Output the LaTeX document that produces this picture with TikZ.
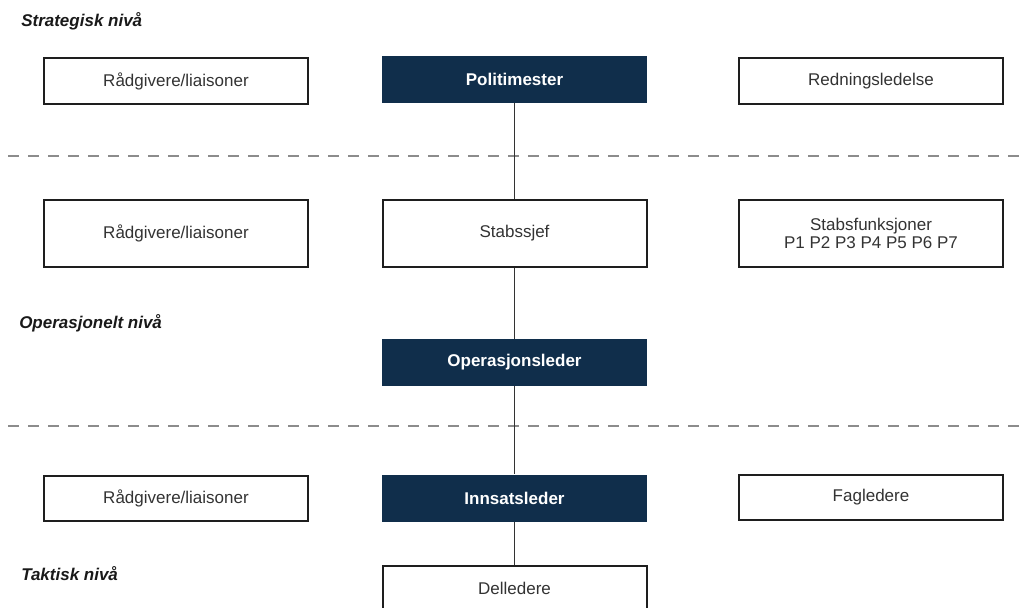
\documentclass[tikz,border=0pt]{standalone}
\usepackage{fontspec}
\setmainfont{Liberation Sans}
\usetikzlibrary{positioning}
\definecolor{navy}{HTML}{102E4B}
\definecolor{boxline}{HTML}{1E1E1E}
\definecolor{boxtext}{HTML}{333333}
\definecolor{dashline}{HTML}{8C8C8C}

\begin{document}
\begin{tikzpicture}[x=0.75pt,y=-0.75pt,
  font=\fontsize{12.75pt}{13pt}\selectfont,
  whitebox/.style={draw=boxline,line width=1.5pt,fill=white,text=boxtext,
    minimum width=198pt,align=center,inner sep=0pt},
  navybox/.style={fill=navy,text=white,font=\fontsize{12.75pt}{13pt}\selectfont\bfseries,
    minimum width=199pt,minimum height=35.25pt,inner sep=0pt},
  levellabel/.style={anchor=west,inner sep=0pt,text=black!90,
    font=\fontsize{12.75pt}{13pt}\selectfont\bfseries\itshape},
  levelline/.style={draw=dashline,line width=1.1pt,dash pattern=on 8.25pt off 6.75pt},
  link/.style={draw=boxtext,line width=0.8pt}]

  \useasboundingbox (0,0) rectangle (1019,607);

  % levels
  \node[levellabel] (strat) at (21,21) {Strategisk nivå};
  \node[levellabel] (oper) at (19,323) {Operasjonelt nivå};
  \node[levellabel] (takt) at (21,574) {Taktisk nivå};

  \coordinate (d1a) at (8,156);
  \coordinate (d1b) at (1019,156);
  \coordinate (d2a) at (8,426);
  \coordinate (d2b) at (1019,426);
  \draw[levelline] (d1a) -- (d1b);
  \draw[levelline] (d2a) -- (d2b);

  % strategisk
  \node[whitebox,minimum height=34.5pt] (rad1) at (176,81) {Rådgivere/liaisoner};
  \node[navybox] (poli) at (514.5,79) {Politimester};
  \node[whitebox,minimum height=34.5pt] (redn) at (871,81) {Redningsledelse};

  \node[whitebox,minimum height=50.25pt] (rad2) at (176,233.5) {Rådgivere/liaisoner};
  \node[whitebox,minimum height=50.25pt] (stab) at (514.5,233.5) {Stabssjef};
  \node[whitebox,minimum height=50.25pt] (funk) at (871,233.5)
    {Stabsfunksjoner\\P1 P2 P3 P4 P5 P6 P7};

  % operasjonelt
  \node[navybox] (opl) at (514.5,362.5) {Operasjonsleder};

  % taktisk
  \node[whitebox,minimum height=33.75pt] (rad3) at (176,498) {Rådgivere/liaisoner};
  \node[navybox] (inns) at (514.5,498) {Innsatsleder};
  \node[whitebox,minimum height=33.75pt] (fag) at (871,497.5) {Fagledere};
  \node[whitebox,minimum height=33.75pt] (dell) at (514.5,588.5) {Delledere};

  % chain of command
  \draw[link] (poli) -- (stab);
  \draw[link] (stab) -- (opl);
  \draw[link] (opl) -- (inns);
  \draw[link] (inns) -- (dell);

\end{tikzpicture}
\end{document}
